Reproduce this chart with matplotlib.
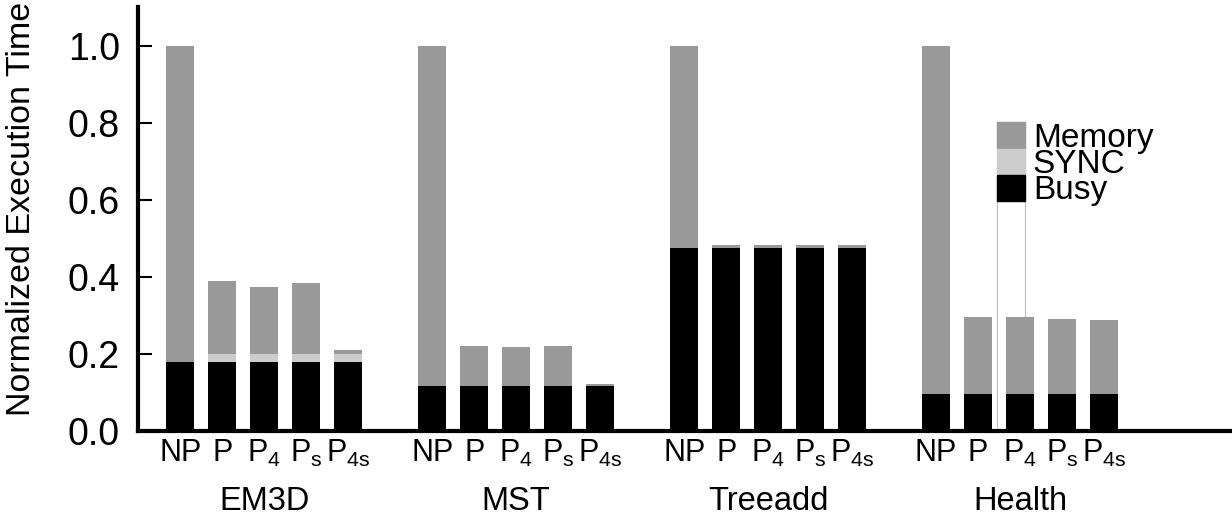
import matplotlib
matplotlib.use("Agg")
import matplotlib.pyplot as plt
from matplotlib.patches import Patch, Rectangle

plt.rcParams['font.family'] = ['Liberation Sans', 'DejaVu Sans']
plt.rcParams['mathtext.default'] = 'regular'

benchmarks = ['EM3D', 'MST', 'Treeadd', 'Health']
configs = ['NP', 'P', 'P$_4$', 'P$_s$', 'P$_{4s}$']

# one row per benchmark, one column per config
busy = [[0.180, 0.180, 0.180, 0.180, 0.180],
        [0.117, 0.117, 0.117, 0.117, 0.117],
        [0.476, 0.476, 0.476, 0.476, 0.476],
        [0.096, 0.096, 0.096, 0.096, 0.096]]
sync = [[0.000, 0.020, 0.020, 0.020, 0.020],
        [0.000, 0.000, 0.000, 0.000, 0.000],
        [0.000, 0.000, 0.000, 0.000, 0.000],
        [0.000, 0.000, 0.000, 0.000, 0.000]]
memory = [[0.820, 0.189, 0.175, 0.185, 0.010],
          [0.883, 0.103, 0.101, 0.103, 0.005],
          [0.524, 0.008, 0.008, 0.008, 0.008],
          [0.904, 0.201, 0.199, 0.194, 0.192]]

c_mem = '#999999'
c_sync = '#cccccc'
c_busy = '#000000'

fig = plt.figure(figsize=(12.32, 5.15), dpi=100)
ax = fig.add_axes([0.112, 0.163, 0.888, 0.823])

width = 0.67
xs, labels = [], []
for g, name in enumerate(benchmarks):
    pos = [g * 6 + i for i in range(len(configs))]
    b = busy[g]
    s = sync[g]
    m = memory[g]
    bs = [b[i] + s[i] for i in range(len(b))]
    ax.bar(pos, b, width, color=c_busy, zorder=2)
    ax.bar(pos, s, width, bottom=b, color=c_sync, zorder=2)
    ax.bar(pos, m, width, bottom=bs, color=c_mem, zorder=2)
    xs += pos
    labels += configs
    ax.text(pos[2], -0.186, name, transform=ax.get_xaxis_transform(),
            ha='center', va='baseline', fontsize=23.5)

ax.set_xticks(xs)
ax.set_xticklabels(labels, fontsize=22)
ax.tick_params(axis='x', length=0, pad=5)
ax.set_xlim(-1.01, 25.05)

ax.set_ylim(0, 1.1)
ax.set_yticks([0.0, 0.2, 0.4, 0.6, 0.8, 1.0])
ax.set_yticklabels(['0.0', '0.2', '0.4', '0.6', '0.8', '1.0'], fontsize=27)
ax.tick_params(axis='y', direction='in', length=10, width=1.5, pad=13)
ax.set_ylabel('Normalized Execution Time', fontsize=24.5)
ax.yaxis.set_label_coords(-0.092, 0.525)

for side in ['top', 'right']:
    ax.spines[side].set_visible(False)
ax.spines['left'].set_linewidth(3)
ax.spines['bottom'].set_linewidth(3)

# faint outline left over from the legend box
ax.add_patch(Rectangle((0.785, 0.0), 0.026, 0.729, transform=ax.transAxes,
                       fill=False, edgecolor='#bbbbbb', linewidth=0.8, zorder=1))

handles = [Patch(color=c_mem), Patch(color=c_sync), Patch(color=c_busy)]
ax.legend(handles, ['Memory', 'SYNC', 'Busy'], loc='upper left',
          bbox_to_anchor=(0.785, 0.729), frameon=False, fontsize=24,
          borderpad=0, borderaxespad=0, labelspacing=-0.15,
          handlelength=0.84, handleheight=0.81, handletextpad=0.24)

fig.savefig('out.png', dpi=100)
